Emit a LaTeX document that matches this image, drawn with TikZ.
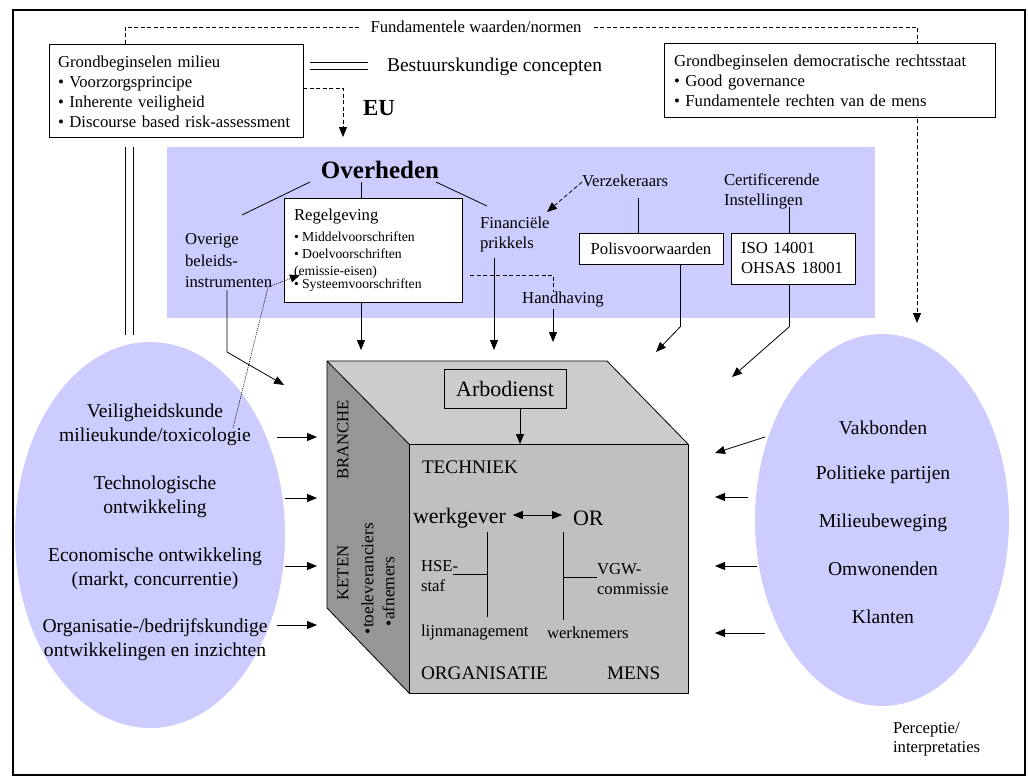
\documentclass[tikz,border=0pt]{standalone}
\usepackage{fontspec}
\setmainfont{Liberation Serif}
\usetikzlibrary{arrows.meta,shapes.geometric}
\definecolor{lav}{RGB}{204,204,255}
\definecolor{cubetop}{RGB}{204,204,204}
\definecolor{cubefront}{RGB}{192,192,192}
\definecolor{cubeleft}{RGB}{150,150,150}
\newcommand\fsBody{\fontsize{16.7}{20}\selectfont}
\newcommand\fsSmallx{\fontsize{13.7}{17}\selectfont}
\newcommand\fsBig{\fontsize{19.6}{24}\selectfont}
\newcommand\fsCap{\fontsize{19.2}{23}\selectfont}
\newcommand\fsHuge{\fontsize{22}{26}\selectfont}
\begin{document}
\begin{tikzpicture}[x=1pt,y=-1pt,
  every node/.style={inner sep=0pt,outer sep=0pt},
  txt/.style={font=\fsBody},
  arr/.style={-{Triangle[length=10pt,width=8pt]},line width=0.8pt},
  ln/.style={line width=0.8pt},
  dsh/.style={line width=0.8pt,dash pattern=on 4pt off 2.5pt},
  dotl/.style={line width=0.6pt,dash pattern=on 1pt off 1pt},
  boxed/.style={draw,line width=0.8pt,fill=white}]
\useasboundingbox (0,0) rectangle (1028,776);
\draw[line width=2.5pt] (13,10) rectangle (1025,775);

% ellipses
\node[ellipse,fill=lav,minimum width=270pt,minimum height=386pt] (lell) at (150,535) {};
\node[ellipse,fill=lav,minimum width=254pt,minimum height=372pt] (rell) at (882,520) {};

% government band
\node[fill=lav,anchor=north west,minimum width=708pt,minimum height=171pt] (gov) at (167,147) {};

% top dashed connection
\node[txt,inner xsep=12pt] (fund) at (476,27) {Fundamentele waarden/normen};
\coordinate (perc) at (917,323);
\draw[dsh] (125,44) -- (125,27) -- (fund.west);
\draw[dsh,-{Triangle[length=10pt,width=8pt]}] (fund.east) -- (917,27) -- (perc);

% boxes top
\node[boxed,anchor=north west,minimum width=254pt,minimum height=93pt,text width=236pt,inner xsep=9pt,align=left,font=\fsBody] (milieu) at (49,44)
  {\rule{0pt}{14pt}Grondbeginselen milieu\\• Voorzorgsprincipe\\• Inherente veiligheid\\• Discourse based risk-assessment};
\node[boxed,anchor=north west,minimum width=331pt,minimum height=74pt,text width=311pt,inner xsep=10pt,align=left,font=\fsBody] (recht) at (664,43)
  {\rule{0pt}{14pt}Grondbeginselen democratische rechtsstaat\\• Good governance\\• Fundamentele rechten van de mens};

% Bestuurskundige concepten
\draw[ln] (310,62) -- (368,62);
\draw[ln] (310,69) -- (368,69);
\node[anchor=west,font=\fontsize{19.5}{23}\selectfont] (best) at (387,67) {Bestuurskundige concepten};
\draw[ln] (125,147) -- (125,335);
\draw[ln] (133,147) -- (133,335);

% EU
\coordinate (eutip) at (343,137);
\draw[dsh,-{Triangle[length=10pt,width=8pt]}] (milieu.east |- 0,88) -- (343,88) -- (eutip);
\node[anchor=west,font=\fontsize{23}{27}\bfseries\selectfont] (eu) at (363,108) {EU};

% Overheden
\node[font=\fontsize{25}{29}\bfseries\selectfont] (overh) at (380,170) {Overheden};
\node[boxed,anchor=north west,minimum width=178pt,minimum height=104pt,text width=158pt,inner xsep=10pt,align=left] (regel) at (284,198)
  {\fsBody Regelgeving\\[4pt]\fsSmallx • Middelvoorschriften\\• Doelvoorschriften\\(emissie-eisen)\\• Systeemvoorschriften};
\node[txt,anchor=west,align=left,font=\fontsize{16.7}{21.5}\selectfont] (overig) at (185,261) {Overige\\beleids-\\instrumenten};
\node[txt,anchor=west,align=left] (fin) at (480,234) {Financiële\\prikkels};
\draw[ln] (310,182) -- (242,215);
\draw[ln] (361,182) -- (regel.north -| 361,0);
\draw[ln] (436,182) -- (487,206);

\node[txt,anchor=west] (verz) at (582,181) {Verzekeraars};
\node[boxed,anchor=north west,minimum width=144pt,minimum height=31pt,font=\fsBody] (polis) at (579,233) {Polisvoorwaarden};
\node[txt,anchor=west,align=left] (cert) at (724,191) {Certificerende\\Instellingen};
\node[boxed,anchor=north west,minimum width=122pt,minimum height=51pt,text width=104pt,inner xsep=10pt,align=left,font=\fsBody] (iso) at (731,233) {ISO 14001\\OHSAS 18001};
\node[txt] (handh) at (563,300) {Handhaving};

\draw[dsh,-{Triangle[length=10pt,width=8pt]}] (582,182) -- (547,212);
\draw[ln] (638,198) -- (polis.north -| 638,0);
\draw[ln] (789,207) -- (iso.north -| 789,0);

% cube
\fill[cubetop] (327,361) -- (607,361) -- (688,444) -- (409,444) -- cycle;
\fill[cubeleft] (327,361) -- (409,444) -- (409,693) -- (327,608) -- cycle;
\node[fill=cubefront,draw,line width=0.8pt,anchor=north west,minimum width=279pt,minimum height=249pt] (front) at (409,444) {};
\draw[ln] (327,361) -- (607,361) -- (688,444);
\draw[ln] (327,361) -- (409,444);
\draw[ln] (327,361) -- (327,608) -- (409,693);

\node[draw,line width=0.8pt,minimum width=122pt,minimum height=39pt,font=\fsHuge] (arbo) at (505,388.5) {Arbodienst};
\draw[arr] (arbo.south -| 520,0) -- (front.north -| 520,0);

\node[anchor=west,font=\fsCap] (tech) at (422,467) {TECHNIEK};
\node[anchor=west,font=\fsHuge] (wg) at (413,518) {werkgever};
\node[anchor=west,font=\fsHuge] (or) at (573,518) {OR};
\draw[{Triangle[length=10pt,width=8pt]}-{Triangle[length=10pt,width=8pt]},line width=0.8pt,shorten <=7pt,shorten >=11pt] (wg.east |- 0,515) -- (or.west |- 0,515);
\draw[ln] (487,532) -- (487,617);
\draw[ln] (453,574) -- (487,574);
\node[txt,anchor=west,align=left] (hse) at (421,576) {HSE-\\staf};
\draw[ln] (563,532) -- (563,620);
\draw[ln] (563,577) -- (597,577);
\node[txt,anchor=west,align=left] (vgw) at (597,579) {VGW-\\commissie};
\node[txt,anchor=west] (lijn) at (421,633) {lijnmanagement};
\node[txt,anchor=west] (wn) at (547,633) {werknemers};
\node[anchor=west,font=\fsCap] (org) at (421,673) {ORGANISATIE};
\node[anchor=west,font=\fsCap] (mens) at (607,673) {MENS};
\node[txt,rotate=90] (branche) at (343,440) {BRANCHE};
\node[txt,rotate=90] (keten) at (343,573) {KETEN};
\node[rotate=90,align=left,anchor=west,font=\fontsize{17.3}{21}\selectfont] (keten2) at (378,634) {•toeleveranciers\\\hspace*{8pt}•afnemers};

% arrows into cube from top
\draw[arr] (227,290) -- (227,352) -- (284,385);
\draw[arr] (regel.south -| 361,0) -- (361,350);
\draw[arr] (494,258) -- (494,350);
\draw[dsh] (470,275) -- (553,275) -- (553,292);
\draw[arr] (553,309) -- (553,342);
\draw[ln] (polis.south -| 680,0) -- (680,327);
\draw[arr] (680,327) -- (656,352);
\draw[ln] (iso.south -| 789,0) -- (789,327);
\draw[arr] (789,327) -- (732,377);

% dotted arrow
\draw[dotl,-{Triangle[length=10pt,width=8pt]}] (233,428) -- (268,287) -- (300,275);

% left ellipse texts
\node[align=center,font=\fsBig] (l1) at (155,425) {Veiligheidskunde\\milieukunde/toxicologie};
\node[align=center,font=\fsBig] (l2) at (155,497) {Technologische\\ontwikkeling};
\node[align=center,font=\fsBig] (l3) at (155,569) {Economische ontwikkeling\\(markt, concurrentie)};
\node[align=center,font=\fsBig] (l4) at (155,640) {Organisatie-/bedrijfskundige\\ontwikkelingen en inzichten};
\draw[arr] (277,437) -- (317,437);
\draw[arr] (285,498) -- (317,498);
\draw[arr] (285,566) -- (317,566);
\draw[arr] (277,625) -- (317,625);

% right ellipse texts
\node[font=\fsBig] (r1) at (883,428) {Vakbonden};
\node[font=\fsBig] (r2) at (883,475) {Politieke partijen};
\node[font=\fsBig] (r3) at (883,523) {Milieubeweging};
\node[font=\fsBig] (r4) at (883,569) {Omwonenden};
\node[font=\fsBig] (r5) at (883,617) {Klanten};
\draw[arr] (765,437) -- (715,453);
\draw[arr] (748,497) -- (715,497);
\draw[arr] (757,566) -- (715,566);
\draw[arr] (765,633) -- (715,633);

\node[anchor=west,align=left,font=\fontsize{16.7}{19}\selectfont] (percep) at (893,739) {Perceptie/\\interpretaties};
\end{tikzpicture}
\end{document}
